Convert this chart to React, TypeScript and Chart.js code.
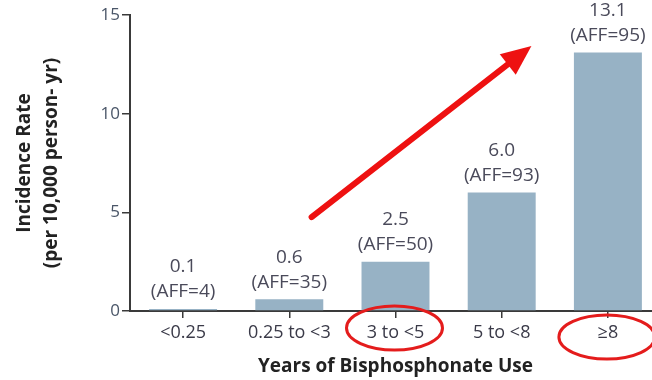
import React, { useEffect, useRef } from "react";
import { Chart, registerables } from "chart.js";

Chart.register(...registerables);

const categories = ["<0.25", "0.25 to <3", "3 to <5", "5 to <8", "≥8"];
const rates = [0.1, 0.6, 2.5, 6.0, 13.1];
const affCounts = [4, 35, 50, 93, 95];
const yTicks = [0, 5, 10, 15];
const circledCategories = [2, 4];
const arrowFrom = { index: 1.21, value: 4.76 };
const arrowTo = { index: 3.28, value: 13.43 };

const FONT = "'Open Sans', sans-serif";
const AXIS = "#3a3a3a";

const annotPlugin = {
  id: "annot",
  afterDraw(chart: any) {
    const ctx = chart.ctx;
    const xs = chart.scales.x;
    const ys = chart.scales.y;
    const meta = chart.getDatasetMeta(0);
    ctx.save();

    // data labels
    ctx.fillStyle = "#4a4a5a";
    ctx.font = `19px ${FONT}`;
    ctx.textAlign = "center";
    ctx.textBaseline = "middle";
    meta.data.forEach((bar: any, i: number) => {
      ctx.fillText(`(AFF=${affCounts[i]})`, bar.x, bar.y - 17);
      ctx.fillText(rates[i].toFixed(1), bar.x, bar.y - 42);
    });

    // red ellipses around labels
    ctx.strokeStyle = "#e41c1c";
    ctx.lineWidth = 3;
    const base = ys.getPixelForValue(0);
    circledCategories.forEach((ci, k) => {
      const cx = xs.getPixelForValue(ci) - 1;
      const cy = base + (k === 0 ? 17 : 26);
      ctx.beginPath();
      ctx.ellipse(cx, cy, 48, 22, 0, 0, Math.PI * 2);
      ctx.stroke();
    });

    // red arrow
    const x1 = xs.getPixelForValue(arrowFrom.index);
    const y1 = ys.getPixelForValue(arrowFrom.value);
    const x2 = xs.getPixelForValue(arrowTo.index);
    const y2 = ys.getPixelForValue(arrowTo.value);
    const ang = Math.atan2(y2 - y1, x2 - x1);
    const headLen = 30;
    const headHalf = 13;
    const bx = x2 - headLen * Math.cos(ang);
    const by = y2 - headLen * Math.sin(ang);
    ctx.strokeStyle = "#ee1111";
    ctx.fillStyle = "#ee1111";
    ctx.lineWidth = 6;
    ctx.lineCap = "round";
    ctx.beginPath();
    ctx.moveTo(x1, y1);
    ctx.lineTo(bx, by);
    ctx.stroke();
    ctx.beginPath();
    ctx.moveTo(x2, y2);
    ctx.lineTo(bx + headHalf * Math.sin(ang), by - headHalf * Math.cos(ang));
    ctx.lineTo(bx - headHalf * Math.sin(ang), by + headHalf * Math.cos(ang));
    ctx.closePath();
    ctx.fill();
    ctx.restore();
  },
};

export default function App() {
  const ref = useRef<HTMLCanvasElement>(null);
  useEffect(() => {
    const chart = new Chart(ref.current as HTMLCanvasElement, {
      type: "bar",
      data: {
        labels: categories,
        datasets: [
          {
            data: rates,
            backgroundColor: "#97b2c5",
            barPercentage: 0.64,
            categoryPercentage: 1,
          },
        ],
      },
      options: {
        responsive: false,
        animation: false,
        layout: { padding: { top: 15, right: 0, left: 0, bottom: 0 } },
        plugins: { legend: { display: false }, tooltip: { enabled: false } },
        scales: {
          x: {
            afterFit: (s: any) => {
              s.height = 69;
            },
            grid: {
              drawOnChartArea: false,
              drawTicks: true,
              tickLength: 7,
              offset: false,
              color: AXIS,
              lineWidth: 1.5,
            },
            border: { color: AXIS, width: 2 },
            ticks: {
              autoSkip: false,
              maxRotation: 0,
              padding: 4,
              color: "#3a3a48",
              font: { family: FONT, size: 18 },
            },
            title: {
              display: true,
              text: "Years of Bisphosphonate Use",
              color: "#222",
              font: { family: FONT, size: 19, weight: "bold" },
              padding: { top: 0, bottom: 2 },
            },
          },
          y: {
            min: 0,
            max: 15,
            afterFit: (s: any) => {
              s.width = 130;
            },
            afterBuildTicks: (s: any) => {
              s.ticks = yTicks.map((v) => ({ value: v }));
            },
            grid: {
              drawOnChartArea: false,
              drawTicks: true,
              tickLength: 8,
              color: AXIS,
              lineWidth: 1.5,
            },
            border: { color: AXIS, width: 2 },
            ticks: {
              padding: 2,
              color: "#4a5668",
              font: { family: FONT, size: 17 },
            },
            title: {
              display: true,
              text: ["Incidence Rate", "(per 10,000 person- yr)"],
              color: "#222",
              font: { family: FONT, size: 19, weight: "bold", lineHeight: 1.42 },
              padding: { top: 11, bottom: 0 },
            },
          },
        },
      },
      plugins: [annotPlugin],
    } as any);
    return () => chart.destroy();
  }, []);
  return (
    <div style={{ position: "fixed", left: 0, top: 0, width: 652, height: 380, overflow: "hidden", background: "#fff" }}>
      <canvas ref={ref} width={661} height={380} style={{ display: "block" }} />
    </div>
  );
}
